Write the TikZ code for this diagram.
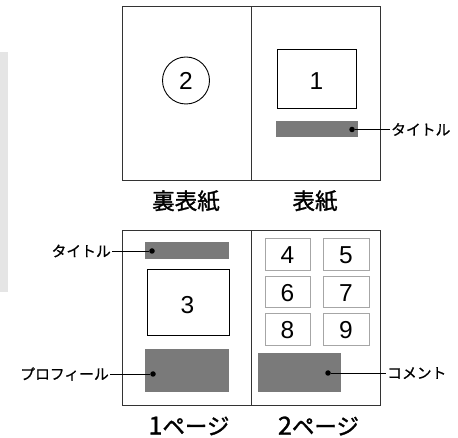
\documentclass[tikz,border=0pt]{standalone}
\usepackage{fontspec}
\setmainfont{Liberation Sans}
\newfontfamily\jp{Noto Sans CJK JP}
\newfontfamily\jpb[FakeBold=1.3]{Noto Sans CJK JP}
\newfontfamily\jpm[FakeBold=0.6]{Noto Sans CJK JP}
\begin{document}
\begin{tikzpicture}[x=1pt,y=-1pt,
  page/.style={draw=black!80,line width=1pt},
  bar/.style={fill=black!52,draw=none},
  pic/.style={draw=black,line width=0.95pt,fill=white},
  cell/.style={draw=black!35,line width=0.9pt},
  dot/.style={circle,fill=black,inner sep=0pt,minimum size=5.5pt},
  lead/.style={draw=black,line width=0.9pt},
  callout/.style={font=\jpm\fontsize{14.8}{17}\selectfont,inner sep=1pt},
  caption/.style={font=\jpb\fontsize{22.5}{26}\selectfont,inner sep=0pt},
  num/.style={font=\fontsize{24.5}{28}\selectfont,inner sep=0pt}]
\useasboundingbox (0,0) rectangle (458,438);
% side band
\fill[black!10] (0,52) rectangle (8,292);
% top spread
\draw[page] (122,7) rectangle (380,181);
\draw[page] (251,7) -- (251,181);
\node[draw=black,line width=0.9pt,circle,minimum size=47pt,inner sep=0pt] (c2) at (186,80.5) {};
\node[num] (n2) at (186,81) {2};
\draw[pic] (277,49) rectangle (356,108);
\node[num] (n1) at (316.5,81) {1};
\fill[bar] (276,121) rectangle (358,137);
\node[dot] (d1) at (352,129.5) {};
\node[callout,anchor=west] (t1) at (390,129.5) {タイトル};
\draw[lead] (d1) -- (t1.west);
\node[caption] (cap1) at (186,201) {裏表紙};
\node[caption] (cap2) at (315,201) {表紙};
% bottom spread
\draw[page] (122,231) rectangle (380,405);
\draw[page] (251,231) -- (251,405);
\fill[bar] (145,242) rectangle (229,259);
\node[dot] (d2) at (152,251) {};
\node[callout,anchor=east] (t2) at (112,251) {タイトル};
\draw[lead] (t2.east) -- (d2);
\draw[pic] (147,269) rectangle (229,335);
\node[num] (n3) at (187.5,305) {3};
\fill[bar] (145,349) rectangle (229,392);
\node[dot] (d3) at (153,374) {};
\node[callout,anchor=east] (t3) at (110,374) {プロフィール};
\draw[lead] (t3.east) -- (d3);
% grid
\foreach \r/\ya/\yb/\a/\b in {0/238/270/4/5,1/276/307/6/7,2/313/345/8/9}{
  \draw[cell] (265,\ya) rectangle (310,\yb);
  \draw[cell] (323,\ya) rectangle (369,\yb);
  \node[num] (g\a) at (287.5,{(\ya+\yb)/2+1.5}) {\a};
  \node[num] (g\b) at (346,{(\ya+\yb)/2+1.5}) {\b};
}
\fill[bar] (258,353) rectangle (341,392);
\node[dot] (d4) at (328,373) {};
\node[callout,anchor=west] (t4) at (386,373) {コメント};
\draw[lead] (d4) -- (t4.west);
\node[caption] (cap3) at (189,426) {{\fontsize{25}{28}\selectfont 1}ページ};
\node[caption] (cap4) at (318.5,426) {{\fontsize{25}{28}\selectfont 2}ページ};
\end{tikzpicture}
\end{document}
